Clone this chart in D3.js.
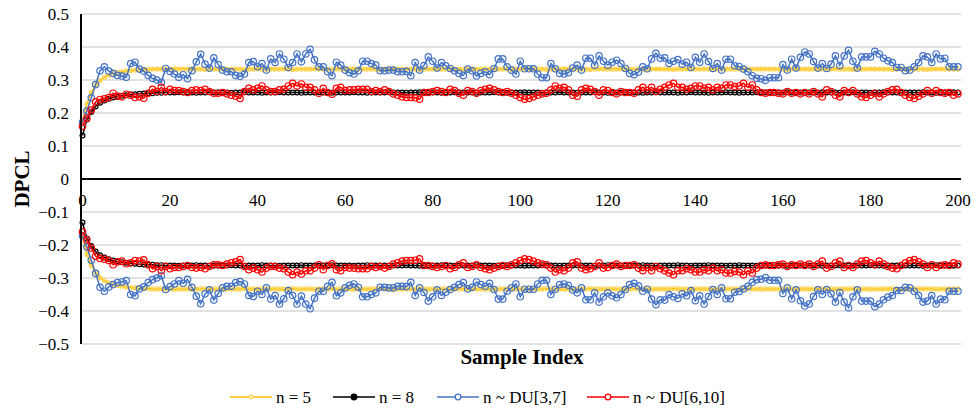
<!DOCTYPE html>
<html>
<head>
<meta charset="utf-8">
<script src="https://cdn.jsdelivr.net/npm/d3@7"></script>
<style>
  body { margin: 0; background: #fff; }
  svg text { font-family: "Liberation Serif", "DejaVu Serif", "Times New Roman", serif; }
</style>
</head>
<body>
<div id="chart"></div>
<script>
// Upper control limits per sample; the lower limits are their mirror image
var seriesNames = ['n = 5', 'n = 8', 'n ~ DU[3,7]', 'n ~ DU[6,10]'];
var seriesColors = ['#FFC000', '#000000', '#4472C4', '#FF0000'];

var n5 = [
  0.175,0.228,0.262,0.284,0.299,0.308,0.315,0.320,0.323,0.325,0.327,0.329,0.330,0.331,0.332,0.332,0.333,0.333,0.333,0.333,
  0.333,0.334,0.333,0.333,0.333,0.334,0.333,0.333,0.332,0.333,0.333,0.333,0.334,0.333,0.333,0.333,0.333,0.332,0.333,0.333,
  0.334,0.333,0.333,0.333,0.333,0.333,0.334,0.333,0.332,0.333,0.333,0.333,0.333,0.334,0.333,0.333,0.333,0.332,0.333,0.333,
  0.333,0.333,0.334,0.333,0.333,0.333,0.333,0.333,0.332,0.333,0.333,0.334,0.333,0.333,0.333,0.333,0.333,0.332,0.333,0.334,
  0.333,0.333,0.333,0.333,0.334,0.333,0.333,0.332,0.333,0.333,0.333,0.333,0.334,0.333,0.333,0.333,0.333,0.333,0.332,0.333,
  0.333,0.334,0.333,0.333,0.333,0.333,0.332,0.333,0.333,0.333,0.334,0.333,0.333,0.333,0.333,0.333,0.332,0.333,0.334,0.333,
  0.333,0.333,0.333,0.334,0.333,0.333,0.332,0.333,0.333,0.333,0.333,0.334,0.333,0.333,0.333,0.332,0.333,0.333,0.334,0.333,
  0.333,0.333,0.333,0.333,0.332,0.333,0.334,0.333,0.333,0.333,0.333,0.333,0.332,0.333,0.333,0.334,0.333,0.333,0.333,0.333,
  0.333,0.332,0.333,0.334,0.333,0.333,0.333,0.333,0.332,0.333,0.333,0.333,0.334,0.333,0.333,0.333,0.332,0.333,0.333,0.333,
  0.334,0.333,0.333,0.333,0.333,0.332,0.333,0.334,0.333,0.333,0.333,0.333,0.333,0.332,0.333,0.334,0.333,0.333,0.333,0.333,
  0.333
];

var n8 = [
  0.132,0.180,0.203,0.220,0.231,0.238,0.243,0.247,0.250,0.252,0.254,0.256,0.257,0.258,0.259,0.260,0.260,0.261,0.261,0.262,
  0.262,0.262,0.263,0.262,0.262,0.262,0.261,0.262,0.262,0.263,0.262,0.262,0.262,0.262,0.261,0.262,0.262,0.263,0.262,0.262,
  0.262,0.261,0.262,0.262,0.262,0.263,0.262,0.262,0.262,0.262,0.261,0.262,0.262,0.262,0.263,0.262,0.262,0.261,0.262,0.262,
  0.262,0.262,0.263,0.262,0.262,0.261,0.262,0.262,0.262,0.262,0.263,0.262,0.262,0.262,0.261,0.262,0.262,0.263,0.262,0.262,
  0.262,0.262,0.261,0.262,0.262,0.263,0.262,0.262,0.262,0.262,0.261,0.262,0.262,0.262,0.263,0.262,0.262,0.261,0.262,0.262,
  0.262,0.263,0.262,0.262,0.262,0.261,0.262,0.262,0.262,0.263,0.262,0.262,0.262,0.261,0.262,0.262,0.262,0.263,0.262,0.262,
  0.261,0.262,0.262,0.262,0.263,0.262,0.262,0.262,0.261,0.262,0.262,0.263,0.262,0.262,0.262,0.262,0.261,0.262,0.262,0.263,
  0.262,0.262,0.262,0.261,0.262,0.262,0.262,0.263,0.262,0.262,0.261,0.262,0.262,0.262,0.263,0.262,0.262,0.262,0.261,0.262,
  0.262,0.263,0.262,0.262,0.262,0.261,0.262,0.262,0.262,0.263,0.262,0.262,0.262,0.261,0.262,0.262,0.263,0.262,0.262,0.262,
  0.261,0.262,0.262,0.263,0.262,0.262,0.262,0.261,0.262,0.262,0.262,0.262,0.263,0.262,0.262,0.261,0.262,0.262,0.262,0.263,
  0.262
];

var du37 = [
  0.172,0.206,0.246,0.286,0.328,0.340,0.327,0.320,0.314,0.312,0.308,0.350,0.354,0.333,0.327,0.314,0.305,0.300,0.293,0.335,
  0.326,0.318,0.308,0.316,0.304,0.328,0.355,0.378,0.348,0.336,0.367,0.347,0.330,0.325,0.325,0.314,0.311,0.318,0.353,0.356,
  0.340,0.350,0.330,0.364,0.353,0.379,0.363,0.338,0.353,0.379,0.355,0.379,0.393,0.361,0.340,0.340,0.325,0.313,0.354,0.345,
  0.330,0.322,0.318,0.328,0.357,0.357,0.350,0.345,0.328,0.328,0.330,0.330,0.325,0.325,0.326,0.313,0.353,0.330,0.344,0.370,
  0.357,0.336,0.353,0.343,0.335,0.328,0.320,0.314,0.333,0.328,0.312,0.320,0.325,0.316,0.335,0.364,0.364,0.340,0.330,0.318,
  0.357,0.334,0.334,0.334,0.318,0.307,0.307,0.350,0.334,0.320,0.318,0.322,0.336,0.345,0.330,0.366,0.366,0.345,0.373,0.357,
  0.345,0.354,0.360,0.350,0.335,0.320,0.316,0.324,0.340,0.334,0.364,0.381,0.366,0.367,0.350,0.357,0.362,0.348,0.354,0.338,
  0.369,0.354,0.379,0.356,0.335,0.350,0.330,0.363,0.363,0.343,0.341,0.333,0.325,0.313,0.305,0.304,0.299,0.307,0.307,0.307,
  0.347,0.330,0.363,0.336,0.369,0.385,0.379,0.356,0.336,0.350,0.335,0.348,0.373,0.344,0.373,0.390,0.357,0.336,0.370,0.370,
  0.370,0.387,0.379,0.366,0.358,0.353,0.338,0.338,0.328,0.330,0.340,0.353,0.373,0.370,0.353,0.379,0.364,0.366,0.340,0.340,
  0.340
];

var du610 = [
  0.160,0.184,0.209,0.234,0.241,0.243,0.247,0.260,0.251,0.249,0.257,0.254,0.247,0.249,0.245,0.260,0.272,0.265,0.278,0.265,
  0.272,0.268,0.268,0.265,0.262,0.268,0.270,0.268,0.272,0.265,0.260,0.260,0.262,0.258,0.254,0.251,0.244,0.265,0.275,0.270,
  0.275,0.282,0.270,0.265,0.265,0.270,0.272,0.282,0.290,0.282,0.288,0.278,0.278,0.270,0.260,0.275,0.262,0.257,0.275,0.278,
  0.268,0.270,0.270,0.272,0.272,0.272,0.265,0.268,0.265,0.270,0.265,0.258,0.254,0.249,0.247,0.247,0.246,0.242,0.262,0.262,
  0.265,0.268,0.265,0.262,0.272,0.268,0.260,0.254,0.268,0.265,0.260,0.268,0.272,0.275,0.270,0.265,0.262,0.265,0.260,0.254,
  0.247,0.242,0.244,0.249,0.254,0.258,0.260,0.270,0.282,0.275,0.278,0.270,0.254,0.251,0.270,0.275,0.272,0.265,0.254,0.270,
  0.268,0.262,0.258,0.265,0.262,0.262,0.260,0.270,0.278,0.268,0.278,0.265,0.272,0.278,0.285,0.290,0.278,0.278,0.272,0.275,
  0.282,0.282,0.275,0.278,0.270,0.278,0.275,0.285,0.285,0.280,0.282,0.290,0.278,0.285,0.270,0.262,0.260,0.262,0.262,0.260,
  0.258,0.265,0.260,0.262,0.258,0.262,0.258,0.265,0.258,0.249,0.270,0.265,0.254,0.249,0.268,0.262,0.268,0.258,0.249,0.247,
  0.254,0.260,0.249,0.258,0.265,0.270,0.272,0.262,0.254,0.247,0.244,0.251,0.258,0.268,0.260,0.268,0.262,0.260,0.262,0.254,
  0.258
];

var xTicks = d3.range(0, 201, 20);
var yTicks = [-0.5, -0.4, -0.3, -0.2, -0.1, 0, 0.1, 0.2, 0.3, 0.4, 0.5];

var W = 974, H = 412;
var svg = d3.select('#chart').append('svg')
    .attr('width', W).attr('height', H)
    .style('display', 'block');

var x = d3.scaleLinear().domain([0, 200]).range([82.5, 958]);
var y = d3.scaleLinear().domain([-0.5, 0.5]).range([344, 14]);

// gridlines
svg.append('g').selectAll('line')
    .data(yTicks.filter(function (d) { return d !== 0; }))
    .enter().append('line')
    .attr('x1', 82).attr('x2', 961)
    .attr('y1', function (d) { return y(d); })
    .attr('y2', function (d) { return y(d); })
    .attr('stroke', '#d9d9d9').attr('stroke-width', 1.5);

// y tick labels
svg.append('g').selectAll('text')
    .data(yTicks)
    .enter().append('text')
    .attr('x', 69)
    .attr('y', function (d) { return y(d) + 6; })
    .attr('text-anchor', 'end')
    .attr('font-size', 17)
    .text(function (d) { return d === 0 ? '0' : d3.format('.1f')(d); });

// x tick labels sit just under the zero line
svg.append('g').selectAll('text')
    .data(xTicks)
    .enter().append('text')
    .attr('x', function (d) { return x(d); })
    .attr('y', y(0) + 27)
    .attr('text-anchor', 'middle')
    .attr('font-size', 17)
    .text(function (d) { return d; });

var series = [n5, n8, du37, du610];
var markerR = [2, 2.4, 3.2, 3.2];
var markerStroke = ['#FFD34D', '#000000', '#4472C4', '#FF0000'];

var line = d3.line()
    .x(function (d, i) { return x(i); })
    .y(function (d) { return y(d); });

series.forEach(function (vals, k) {
    [1, -1].forEach(function (sign) {
        var pts = vals.map(function (v) { return sign * v; });
        var g = svg.append('g');
        g.append('path')
            .attr('d', line(pts))
            .attr('fill', 'none')
            .attr('stroke', seriesColors[k])
            .attr('stroke-width', 1.5);
        g.selectAll('circle')
            .data(pts)
            .enter().append('circle')
            .attr('cx', function (d, i) { return x(i); })
            .attr('cy', function (d) { return y(d); })
            .attr('r', markerR[k])
            .attr('fill', 'none')
            .attr('stroke', markerStroke[k])
            .attr('stroke-width', 1.2);
    });
});

// axes
svg.append('line')
    .attr('x1', 81).attr('x2', 961)
    .attr('y1', y(0)).attr('y2', y(0))
    .attr('stroke', '#000').attr('stroke-width', 2);
svg.append('line')
    .attr('x1', 81).attr('x2', 81)
    .attr('y1', y(0.5)).attr('y2', y(-0.5))
    .attr('stroke', '#000').attr('stroke-width', 2);

// axis titles
svg.append('text')
    .attr('transform', 'translate(29,' + y(0) + ') rotate(-90)')
    .attr('text-anchor', 'middle')
    .attr('font-size', 21).attr('font-weight', 'bold')
    .text('DPCL');
svg.append('text')
    .attr('x', 522).attr('y', 364)
    .attr('text-anchor', 'middle')
    .attr('font-size', 21).attr('font-weight', 'bold')
    .text('Sample Index');

// legend
var legendX = [230, 333, 437, 587];
var legend = svg.append('g');
seriesNames.forEach(function (name, k) {
    var lx = legendX[k], ly = 397;
    legend.append('line')
        .attr('x1', lx).attr('x2', lx + 42)
        .attr('y1', ly).attr('y2', ly)
        .attr('stroke', seriesColors[k]).attr('stroke-width', 1.5);
    legend.append('circle')
        .attr('cx', lx + 21).attr('cy', ly)
        .attr('r', k === 0 ? 1.8 : 2.8)
        .attr('fill', k === 1 ? '#000' : '#fff')
        .attr('stroke', markerStroke[k]).attr('stroke-width', 1.3);
    legend.append('text')
        .attr('x', lx + 46).attr('y', ly + 6)
        .attr('font-size', 17)
        .text(name);
});
</script>
</body>
</html>
